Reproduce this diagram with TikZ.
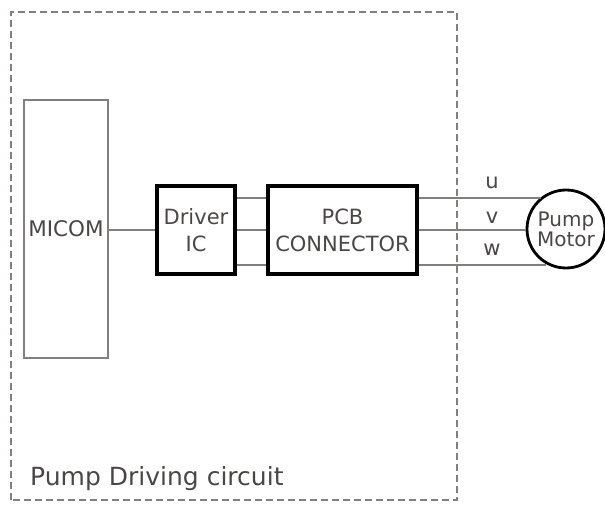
\documentclass[tikz,border=0pt]{standalone}
\usepackage{fontspec}
\setmainfont{DejaVu Sans}
\usepackage{tikz}
\usetikzlibrary{positioning}

\definecolor{txtgray}{HTML}{4A4646}
\definecolor{wiregray}{HTML}{857E7E}

\begin{document}
\begin{tikzpicture}[
    x=1pt, y=1pt,
    box/.style={draw=wiregray, line width=2pt, inner sep=0pt, text=txtgray, font=\fontsize{21.5}{26}\selectfont, align=center},
    thickbox/.style={draw=black, line width=3.2pt, inner sep=0pt, text=txtgray, font=\fontsize{21}{27}\selectfont, align=center},
    wire/.style={draw=wiregray, line width=1.8pt},
    frame/.style={draw=wiregray, line width=1.8pt, dash pattern=on 7pt off 4pt},
    lbl/.style={text=txtgray, font=\fontsize{21}{22}\selectfont, inner sep=0pt}
]
\useasboundingbox (0,0) rectangle (605,504);
% outer dashed frame
\draw[frame] (11,4) rectangle (457,492);
\node[text=txtgray, font=\fontsize{25}{27}\selectfont, anchor=base west, inner sep=0pt] (title) at (30,19) {Pump Driving circuit};

% blocks
\node[box, minimum width=84pt, minimum height=258pt] (micom) at (66,275) {MICOM};
\node[thickbox, minimum width=78pt, minimum height=88pt] (drv) at (196,274) {Driver\\IC};
\node[thickbox, minimum width=149pt, minimum height=88pt] (pcb) at (342.5,274) {PCB\\CONNECTOR};
\node[draw=black, line width=2.8pt, circle, minimum size=78pt, inner sep=0pt, text=txtgray,
      font=\fontsize{20}{18}\selectfont, align=center] (motor) at (566,275) {Pump\\Motor};

% wire heights
\coordinate (yu) at (0,306);
\coordinate (yv) at (0,274);
\coordinate (yw) at (0,239);

\draw[wire] (micom.east |- yv) -- (drv.west |- yv);
\draw[wire] (drv.east |- yu) -- (pcb.west |- yu);
\draw[wire] (drv.east |- yv) -- (pcb.west |- yv);
\draw[wire] (drv.east |- yw) -- (pcb.west |- yw);
\draw[wire] (pcb.east |- yu) -- (motor.128 |- yu);
\draw[wire] (pcb.east |- yv) -- (motor.west |- yv);
\draw[wire] (pcb.east |- yw) -- (motor.240 |- yw);

% phase labels
\node[lbl] (lu) at (492,321) {u};
\node[lbl] (lv) at (492,286) {v};
\node[lbl] (lw) at (492,254) {w};
\end{tikzpicture}
\end{document}
